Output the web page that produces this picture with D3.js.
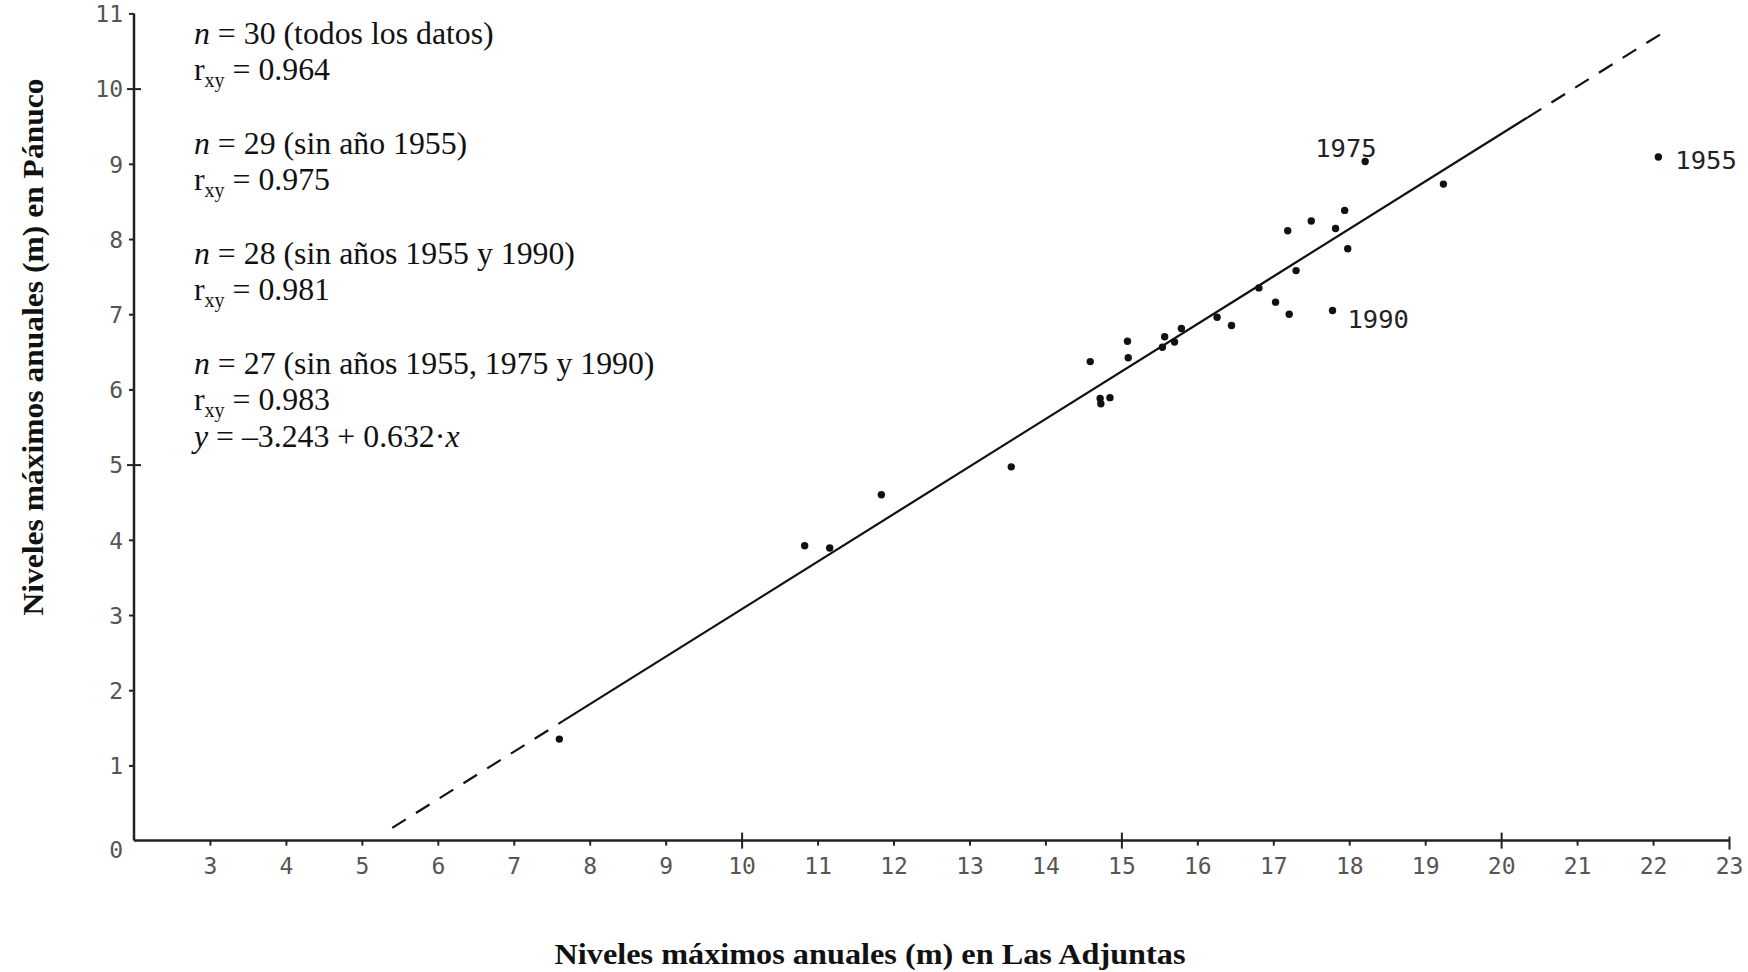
<!DOCTYPE html>
<html>
<head>
<meta charset="utf-8">
<script src="https://cdn.jsdelivr.net/npm/d3@7"></script>
<style>
  body { margin: 0; background: #fff; }
</style>
</head>
<body>
<svg id="chart" width="1748" height="972"></svg>
<script>
// datos
const xTicks = [3, 4, 5, 6, 7, 8, 9, 10, 11, 12, 13, 14, 15, 16, 17, 18, 19, 20, 21, 22, 23];
const yTicks = [0, 1, 2, 3, 4, 5, 6, 7, 8, 9, 10, 11];
const xMajor = [10, 15, 20];
const yMajor = [5, 10];

// niveles máximos anuales (m): Las Adjuntas (x) y Pánuco (y)
const adjuntas = [18.21, 19.24, 17.94, 17.50, 17.19, 17.82, 17.98, 17.30, 16.81, 17.03,
  17.21, 17.78, 16.26, 16.45, 15.79, 15.57, 15.70, 15.54, 15.08, 15.09,
  14.59, 14.72, 14.73, 14.85, 13.55, 11.84, 11.16, 10.83, 7.60, 22.07];
const panuco = [9.03, 8.73, 8.38, 8.24, 8.11, 8.14, 7.87, 7.58, 7.35, 7.16,
  7.00, 7.05, 6.96, 6.85, 6.81, 6.70, 6.63, 6.56, 6.64, 6.42,
  6.37, 5.88, 5.81, 5.89, 4.97, 4.60, 3.89, 3.92, 1.35, 9.09];
const etiquetas = ["1975", "1990", "1955"];
const etiquetasIdx = [0, 11, 29];

// recta de regresión y = a + b·x
const a = -3.243, b = 0.632;
const tramoDashA = [5.4, 7.65];
const tramoSolido = [7.65, 20.35];
const tramoDashB = [20.35, 22.16];

// texto de estadísticos
const statsN = ["30", "29", "28", "27"];
const statsNota = ["(todos los datos)", "(sin año 1955)", "(sin años 1955 y 1990)", "(sin años 1955, 1975 y 1990)"];
const statsR = ["0.964", "0.975", "0.981", "0.983"];

const svg = d3.select("#chart");

const x = d3.scaleLinear().domain([2, 23]).range([134, 1729]);
const y = d3.scaleLinear().domain([0, 11]).range([840.6, 13.4]);

const serif = "'Liberation Serif', 'Times New Roman', serif";
const mono = "'DejaVu Sans Mono', monospace";

// eje x
const gx = svg.append("g")
  .attr("transform", "translate(0," + y(0) + ")")
  .call(d3.axisBottom(x).tickValues(xTicks).tickSize(5).tickSizeOuter(0));
gx.select(".domain").attr("stroke", "#222").attr("stroke-width", 2.5)
  .attr("d", "M" + x(2) + ",0H" + x(23));
gx.selectAll(".tick line").attr("stroke", "#222").attr("stroke-width", 2)
  .attr("y1", d => xMajor.includes(d) ? -8 : (d === 23 ? -4 : 0))
  .attr("y2", d => xMajor.includes(d) ? 8 : (d === 23 ? 9 : 5));
gx.selectAll(".tick text")
  .attr("y", 16).attr("dy", "0.76em")
  .attr("font-family", mono).attr("font-size", 23).attr("fill", "#555");

// eje y
const gy = svg.append("g")
  .attr("transform", "translate(" + x(2) + ",0)")
  .call(d3.axisLeft(y).tickValues(yTicks).tickSize(5).tickPadding(6).tickSizeOuter(0));
gy.select(".domain").attr("stroke", "#222").attr("stroke-width", 2.5)
  .attr("d", "M0," + y(0) + "V" + y(11));
gy.selectAll(".tick line").attr("stroke", "#222").attr("stroke-width", 2)
  .attr("x1", d => yMajor.includes(d) ? 7 : 0)
  .attr("x2", d => yMajor.includes(d) ? -7 : -5);
gy.selectAll(".tick text")
  .attr("font-family", mono).attr("font-size", 23).attr("fill", "#555")
  .attr("dy", d => d === 0 ? "0.75em" : "0.36em");
gy.selectAll(".tick").filter(d => d === 0).select("line").remove();

// recta de regresión
const linea = d3.line().x(d => x(d)).y(d => y(a + b * d));
svg.append("path").attr("d", linea(tramoSolido))
  .attr("stroke", "#111").attr("stroke-width", 2.2).attr("fill", "none");
[tramoDashA, tramoDashB].forEach(t => {
  svg.append("path").attr("d", linea(t))
    .attr("stroke", "#111").attr("stroke-width", 2.2).attr("fill", "none")
    .attr("stroke-dasharray", "16,12");
});

// puntos
svg.append("g").selectAll("circle")
  .data(adjuntas)
  .join("circle")
  .attr("cx", d => x(d))
  .attr("cy", (d, i) => y(panuco[i]))
  .attr("r", 3.7)
  .attr("fill", "#111");

// etiquetas de años
const desplaz = { "1975": [-50, -5], "1990": [15, 18], "1955": [17, 12] };
svg.append("g").selectAll("text")
  .data(etiquetas)
  .join("text")
  .attr("x", (d, i) => x(adjuntas[etiquetasIdx[i]]) + desplaz[d][0])
  .attr("y", (d, i) => y(panuco[etiquetasIdx[i]]) + desplaz[d][1])
  .attr("font-family", mono).attr("font-size", 25.5).attr("fill", "#222")
  .text(d => d);

// bloque de estadísticos
const stats = svg.append("g").attr("font-family", serif).attr("font-size", 31.8).attr("fill", "#111");
const x0 = 194;
statsN.forEach((n, k) => {
  const base = 44 + k * 110;
  const t1 = stats.append("text").attr("x", x0).attr("y", base);
  t1.append("tspan").attr("font-style", "italic").text("n");
  t1.append("tspan").text(" = " + n + " " + statsNota[k]);

  const t2 = stats.append("text").attr("x", x0).attr("y", base + 36);
  t2.append("tspan").text("r");
  t2.append("tspan").attr("font-size", 20).attr("dy", 7).text("xy");
  t2.append("tspan").attr("dy", -7).text(" = " + statsR[k]);
});
const t3 = stats.append("text").attr("x", x0).attr("y", 44 + 3 * 110 + 73);
t3.append("tspan").attr("font-style", "italic").text("y");
t3.append("tspan").text(" = \u20133.243 + 0.632\u00b7");
t3.append("tspan").attr("font-style", "italic").text("x");

// títulos de ejes
svg.append("text")
  .attr("x", 870).attr("y", 964)
  .attr("text-anchor", "middle")
  .attr("font-family", serif).attr("font-weight", "bold").attr("font-size", 30)
  .attr("fill", "#111")
  .attr("textLength", 631).attr("lengthAdjust", "spacingAndGlyphs")
  .text("Niveles máximos anuales (m) en Las Adjuntas");

svg.append("text")
  .attr("transform", "translate(43,347) rotate(-90)")
  .attr("text-anchor", "middle")
  .attr("font-family", serif).attr("font-weight", "bold").attr("font-size", 30)
  .attr("fill", "#111")
  .attr("textLength", 537).attr("lengthAdjust", "spacingAndGlyphs")
  .text("Niveles máximos anuales (m) en Pánuco");
</script>
</body>
</html>
